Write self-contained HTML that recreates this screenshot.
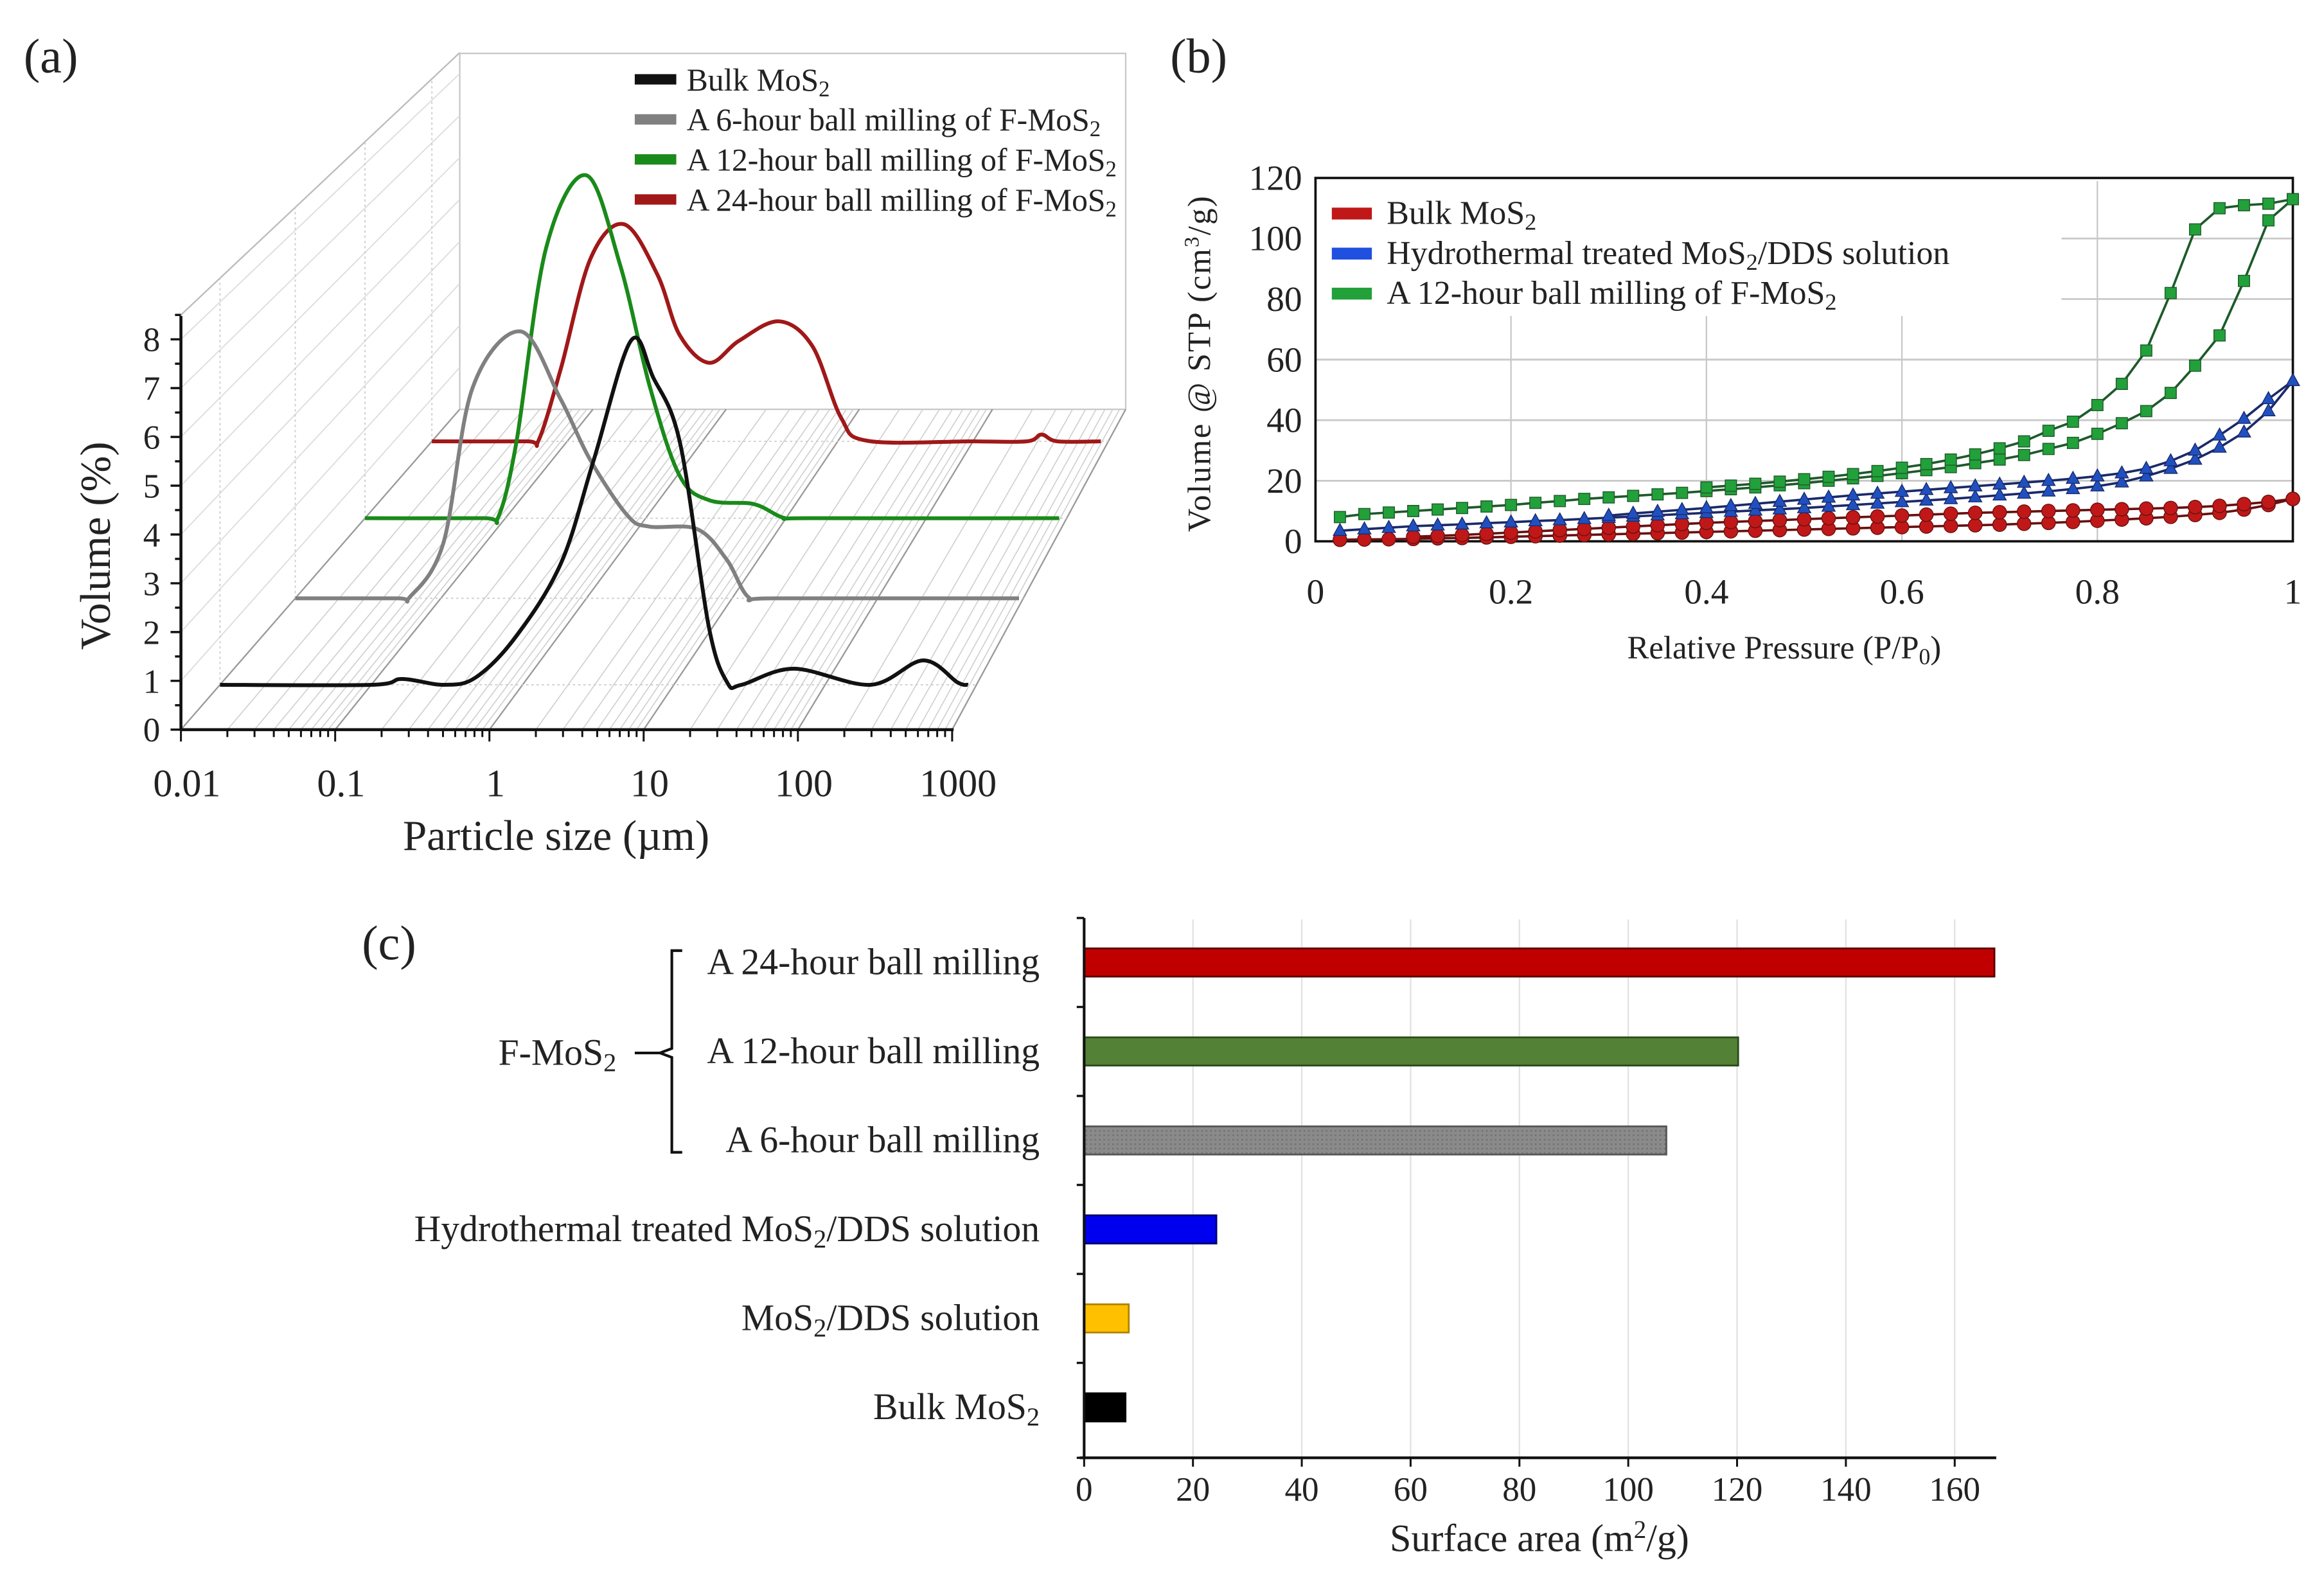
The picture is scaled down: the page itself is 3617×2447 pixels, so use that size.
<!DOCTYPE html>
<html><head><meta charset="utf-8"><style>
html,body{margin:0;padding:0;background:#fff;}
svg{display:block;}
text{font-family:"Liberation Serif",serif;fill:#222;}
</style></head><body>
<svg id="fig" xmlns="http://www.w3.org/2000/svg" width="3617" height="2447" viewBox="0 0 1567 1060" preserveAspectRatio="none">
<defs>
<pattern id="hatch" width="3" height="3" patternUnits="userSpaceOnUse"><rect width="3" height="3" fill="#8a8a8a"/><rect width="1" height="1" fill="#6e6e6e"/></pattern>
</defs>
<g id="pa"></g>
<g id="pb"></g>
<g id="pc"></g>
</svg>
<script>
// ---------- Panel (a) data: particle size (µm) vs volume (%)
const aBulkSize = [0.01,0.1,0.16,0.3,0.49,0.91,1.8,2.95,5.2,7.3,11,17,22.5,28,62,200,444,750,880];
const aBulkVol  = [0,0,0.12,0,0.15,1.0,2.5,4.6,7.05,6.3,4.95,1.2,0.05,0,0.33,0,0.5,0.05,0];
const a6hSize = [0.01,0.05,0.061,0.104,0.165,0.353,0.665,1.06,1.91,2.7,5.75,9.2,13,20,935];
const a6hVol  = [0,0,0.02,1.13,4.31,5.47,4.08,2.84,1.7,1.47,1.42,0.79,0.02,0,0];
const a12hSize = [0.01,0.07,0.089,0.12,0.195,0.376,0.658,1.07,1.74,2.83,5.9,9.6,15,885];
const a12hVol  = [0,0,0.02,1.56,5.53,7.03,5.19,2.7,0.88,0.37,0.29,0.01,0,0];
const a24hSize = [0.01,0.05,0.0615,0.09,0.149,0.263,0.464,0.678,1.12,1.86,3.68,6.5,10.6,16.7,100,250,321,420,881];
const a24hVol  = [0,0,0.02,1.5,3.75,4.45,3.42,2.18,1.61,2.06,2.46,1.95,0.48,0.01,0,0,0.14,0,0];
const aYTicks = [0,1,2,3,4,5,6,7,8];
const aXTicks = [0.01,0.1,1,10,100,1000];
const aXTickLabels = ["0.01","0.1","1","10","100","1000"];

// ---------- Panel (b) data: relative pressure vs volume
const bP40 = [0.025,0.05,0.075,0.1,0.125,0.15,0.175,0.2,0.225,0.25,0.275,0.3,0.325,0.35,0.375,0.4,0.425,0.45,0.475,0.5,0.525,0.55,0.575,0.6,0.625,0.65,0.675,0.7,0.725,0.75,0.775,0.8,0.825,0.85,0.875,0.9,0.925,0.95,0.975,1];
const bGreenAds = [8,9,9.5,10,10.5,11,11.5,12,12.7,13.3,14,14.5,15,15.5,16,16.6,17.2,17.8,18.5,19.2,20,20.8,21.6,22.5,23.5,24.5,25.8,27,28.5,30.5,32.5,35.5,39,43,49,58,68,86,106,113];
const bGreenDesP = [0.4,0.425,0.45,0.475,0.5,0.525,0.55,0.575,0.6,0.625,0.65,0.675,0.7,0.725,0.75,0.775,0.8,0.825,0.85,0.875,0.9,0.925,0.95,0.975,1];
const bGreenDes = [17.8,18.4,19,19.7,20.5,21.3,22.2,23.2,24.3,25.5,27,28.7,30.7,33,36.5,39.5,45,52,63,82,103,110,111,111.5,113];
const bBlueAds = [3.5,4,4.5,5,5.3,5.6,6,6.3,6.7,7,7.4,7.8,8.2,8.6,9,9.4,9.8,10.2,10.6,11,11.5,12,12.5,13,13.5,14,14.6,15.2,15.8,16.5,17.3,18.2,19.5,21.5,24,27,31,36,43,53];
const bBlueDesP = [0.3,0.325,0.35,0.375,0.4,0.425,0.45,0.475,0.5,0.525,0.55,0.575,0.6,0.625,0.65,0.675,0.7,0.725,0.75,0.775,0.8,0.825,0.85,0.875,0.9,0.925,0.95,0.975,1];
const bBlueDes = [8.5,9.2,9.8,10.4,11,11.7,12.4,13.1,13.8,14.5,15.2,15.8,16.4,17,17.6,18.2,18.8,19.4,20,20.7,21.5,22.5,24,26.5,30,35,40.5,47,53];
const bRedAds = [0.5,0.6,0.7,0.8,1,1.1,1.3,1.5,1.7,1.9,2.1,2.3,2.5,2.7,2.9,3.1,3.3,3.5,3.7,3.9,4.1,4.3,4.5,4.7,4.9,5.1,5.3,5.5,5.8,6.1,6.4,6.8,7.2,7.6,8.1,8.7,9.4,10.5,12,14];
const bRedDesP = [0.1,0.125,0.15,0.175,0.2,0.225,0.25,0.275,0.3,0.325,0.35,0.375,0.4,0.425,0.45,0.475,0.5,0.525,0.55,0.575,0.6,0.625,0.65,0.675,0.7,0.725,0.75,0.775,0.8,0.825,0.85,0.875,0.9,0.925,0.95,0.975,1];
const bRedDes = [1.5,1.8,2.1,2.5,2.9,3.3,3.7,4.1,4.5,4.9,5.3,5.7,6.1,6.4,6.7,7,7.3,7.6,7.9,8.2,8.5,8.8,9.1,9.4,9.6,9.8,10,10.2,10.4,10.6,10.8,11,11.3,11.7,12.3,13,14];
const bYTicks = [0,20,40,60,80,100,120];
const bXTicks = [0,0.2,0.4,0.6,0.8,1];
const bXTickLabels = ["0","0.2","0.4","0.6","0.8","1"];

// ---------- Panel (c) data: surface area
const cCategories = ["A 24-hour ball milling","A 12-hour ball milling","A 6-hour ball milling","Hydrothermal treated MoS2/DDS solution","MoS2/DDS solution","Bulk MoS2"];
const cValues = [167.3,120.2,107,24.3,8.2,7.6];
const cXTicks = [0,20,40,60,80,100,120,140,160];

const NS="http://www.w3.org/2000/svg";
function mk(parent,tag,attrs){const e=document.createElementNS(NS,tag);for(const k in attrs)e.setAttribute(k,attrs[k]);parent.appendChild(e);return e;}
function spline(pts){
  let d="M"+pts[0][0].toFixed(2)+","+pts[0][1].toFixed(2);
  for(let i=0;i<pts.length-1;i++){
    const p0=pts[Math.max(0,i-1)],p1=pts[i],p2=pts[i+1],p3=pts[Math.min(pts.length-1,i+2)];
    const c1=[p1[0]+(p2[0]-p0[0])/6,p1[1]+(p2[1]-p0[1])/6];
    const c2=[p2[0]-(p3[0]-p1[0])/6,p2[1]-(p3[1]-p1[1])/6];
    d+=" C"+c1[0].toFixed(2)+","+c1[1].toFixed(2)+" "+c2[0].toFixed(2)+","+c2[1].toFixed(2)+" "+p2[0].toFixed(2)+","+p2[1].toFixed(2);
  }
  return d;
}
function subText(parent,x,y,parts,attrs){
  const t=mk(parent,"text",Object.assign({x:x,y:y},attrs));
  parts.forEach(p=>{const s=mk(t,"tspan",{});s.textContent=p[0];if(p[1]){s.setAttribute("baseline-shift","-25%");s.setAttribute("font-size","70%");}});
  return t;
}

// ================= Panel (a)
(function(){
const g=document.getElementById("pa");
const FLx=122,FRx=642,By=276,Fy=492,BLx=310,BRx=759,unit=32.9;
function xs(size,d){const u=(Math.log10(size)+2)/5;const xl=FLx+(BLx-FLx)*d,xr=FRx+(BRx-FRx)*d;return xl+u*(xr-xl);}
function ys(v,d){return Fy-(Fy-By)*d-v*unit;}
function yw(v,d){return Fy-(Fy-By)*d-v*unit*(1-0.14*d);}
mk(g,"rect",{x:BLx,y:36,width:BRx-BLx,height:By-36,fill:"none",stroke:"#c8c8c8","stroke-width":1});
mk(g,"path",{d:`M${FLx},${yw(8.5,0)} L${BLx},${yw(8.5,1)}`,stroke:"#bbb","stroke-width":1,fill:"none"});
aYTicks.forEach(v=>{mk(g,"line",{x1:FLx,y1:yw(v,0),x2:BLx,y2:yw(v,1),stroke:"#ddd","stroke-width":0.8});});
for(let k=-2;k<=2;k++){for(let m=1;m<=9;m++){const v=m*Math.pow(10,k);
  mk(g,"line",{x1:xs(v,0),y1:Fy,x2:xs(v,1),y2:By,stroke:m===1?"#999":"#cfcfcf","stroke-width":m===1?1:0.7});}}
mk(g,"line",{x1:xs(1000,0),y1:Fy,x2:xs(1000,1),y2:By,stroke:"#999","stroke-width":1});
const depths=[0.14,0.41,0.66,0.9];
depths.forEach(d=>{
  mk(g,"line",{x1:xs(0.01,d),y1:ys(0,d),x2:xs(1000,d),y2:ys(0,d),stroke:"#ccc","stroke-width":0.8,"stroke-dasharray":"1.5,2"});
  mk(g,"line",{x1:xs(0.01,d),y1:ys(0,d),x2:xs(0.01,d),y2:yw(8.5,d),stroke:"#ccc","stroke-width":0.8,"stroke-dasharray":"1.5,2"});
});
const series=[[aBulkSize,aBulkVol,"#111"],[a6hSize,a6hVol,"#808080"],[a12hSize,a12hVol,"#1a8a1a"],[a24hSize,a24hVol,"#a01818"]];
const names=["curve-bulk-mos2","curve-6h-milling","curve-12h-milling","curve-24h-milling"];
for(let s=3;s>=0;s--){
  const [sz,vl,col]=series[s];const d=depths[s];
  const pts=sz.map((v,i)=>[xs(v,d),ys(vl[i],d)]);
  const p=mk(g,"path",{d:spline(pts),fill:"none",stroke:col,"stroke-width":2.6,"stroke-linejoin":"round"});
  
  
}
mk(g,"line",{x1:FLx,y1:213,x2:FLx,y2:Fy,stroke:"#111","stroke-width":2});
mk(g,"line",{x1:FLx,y1:Fy,x2:xs(1000,0)+1,y2:Fy,stroke:"#111","stroke-width":2});
for(let v=0;v<=8.5;v+=0.5){const maj=Number.isInteger(v);mk(g,"line",{x1:FLx-(maj?7:4),y1:ys(v,0),x2:FLx,y2:ys(v,0),stroke:"#111","stroke-width":1.5});}
aYTicks.forEach(v=>{const t=mk(g,"text",{x:FLx-14,y:ys(v,0)+8,"text-anchor":"end","font-size":23});t.textContent=v;});
for(let k=-2;k<=2;k++){for(let m=1;m<=9;m++){const v=m*Math.pow(10,k);mk(g,"line",{x1:xs(v,0),y1:Fy,x2:xs(v,0),y2:Fy+(m===1?8:5),stroke:"#111","stroke-width":1.3});}}
mk(g,"line",{x1:xs(1000,0),y1:Fy,x2:xs(1000,0),y2:Fy+8,stroke:"#111","stroke-width":1.3});
aXTicks.forEach((v,i)=>{const t=mk(g,"text",{x:xs(v,0)+4,y:537,"text-anchor":"middle","font-size":26});t.textContent=aXTickLabels[i];});
const yt=mk(g,"text",{x:0,y:0,transform:"translate(74,368) rotate(-90)","text-anchor":"middle","font-size":29});yt.textContent="Volume (%)";

const xt=mk(g,"text",{x:375,y:573,"text-anchor":"middle","font-size":29});xt.textContent="Particle size (\u00b5m)";

const lab=mk(g,"text",{x:16,y:49,"font-size":33});lab.textContent="(a)";

const leg=[["Bulk MoS","#111"],["A 6-hour ball milling of F-MoS","#808080"],["A 12-hour ball milling of F-MoS","#1a8a1a"],["A 24-hour ball milling of F-MoS","#a01818"]];
leg.forEach((l,i)=>{const y=54+i*27;
  const r=mk(g,"rect",{x:428,y:y-4,width:28,height:7,fill:l[1]});
  
  const t=subText(g,463,y+7,[[l[0]],["2",true]],{"font-size":21.5});
  });
})();

// ================= Panel (b)
(function(){
const g=document.getElementById("pb");
const X=p=>887+p*659, Y=v=>365-v*(245/120);
bYTicks.forEach(v=>{if(v>0&&v<120){const x0=(v>=80)?1390:887;mk(g,"line",{x1:x0,y1:Y(v),x2:1546,y2:Y(v),stroke:"#c8c8c8","stroke-width":1.2});}});
[0.2,0.4,0.6].forEach(p=>mk(g,"line",{x1:X(p),y1:213,x2:X(p),y2:365,stroke:"#c8c8c8","stroke-width":1}));
mk(g,"line",{x1:X(0.8),y1:122,x2:X(0.8),y2:365,stroke:"#c8c8c8","stroke-width":1});
mk(g,"rect",{x:887,y:120,width:659,height:245,fill:"none",stroke:"#111","stroke-width":1.6});
function drawSeries(ps,vs,line,fill,shape,name){
  const pts=ps.map((p,i)=>[X(p),Y(vs[i])]);
  const pl=mk(g,"polyline",{points:pts.map(q=>q.join(",")).join(" "),fill:"none",stroke:line,"stroke-width":1.6});
  
  pts.forEach(q=>{let m;
    if(shape==="c")m=mk(g,"circle",{cx:q[0],cy:q[1],r:4.6,fill:fill,stroke:line,"stroke-width":0.6});
    else if(shape==="s")m=mk(g,"rect",{x:q[0]-3.8,y:q[1]-3.8,width:7.6,height:7.6,fill:fill,stroke:line,"stroke-width":0.6});
    else m=mk(g,"polygon",{points:`${q[0]},${q[1]-4.8} ${q[0]-4.4},${q[1]+3.2} ${q[0]+4.4},${q[1]+3.2}`,fill:fill,stroke:line,"stroke-width":0.6});
    });
}
drawSeries(bP40,bRedAds,"#6a1010","#c01818","c","bulk-adsorption");
drawSeries(bRedDesP,bRedDes,"#6a1010","#c01818","c","bulk-desorption");
drawSeries(bP40,bBlueAds,"#1a2a6a","#2050c0","t","hydrothermal-adsorption");
drawSeries(bBlueDesP,bBlueDes,"#1a2a6a","#2050c0","t","hydrothermal-desorption");
drawSeries(bP40,bGreenAds,"#1d5a2a","#22a03a","s","milled-adsorption");
drawSeries(bGreenDesP,bGreenDes,"#1d5a2a","#22a03a","s","milled-desorption");
bYTicks.forEach(v=>{const t=mk(g,"text",{x:878,y:Y(v)+8,"text-anchor":"end","font-size":24});t.textContent=v;});
bXTicks.forEach((v,i)=>{const t=mk(g,"text",{x:X(v),y:407,"text-anchor":"middle","font-size":24});t.textContent=bXTickLabels[i];});
const xt=subText(g,1203,444,[["Relative Pressure (P/P"],["0",true],[")"]],{"text-anchor":"middle","font-size":22});

const yt=mk(g,"text",{x:0,y:0,transform:"translate(816,245) rotate(-90)","text-anchor":"middle","font-size":22,"letter-spacing":"1"});
[["Volume @ STP (cm"],["3"],["/g)"]].forEach((p,i)=>{const s=mk(yt,"tspan",{});s.textContent=p[0];if(i===1){s.setAttribute("baseline-shift","super");s.setAttribute("font-size","65%");}});

const lab=mk(g,"text",{x:789,y:49,"font-size":33});lab.textContent="(b)";

const leg=[[[["Bulk MoS"],["2",true]],"#c01818"],[[["Hydrothermal  treated MoS"],["2",true],["/DDS solution"]],"#2050e0"],[[["A 12-hour ball milling of F-MoS"],["2",true]],"#22a03a"]];
leg.forEach((l,i)=>{const y=144+i*27;
  const r=mk(g,"rect",{x:898,y:y-4,width:27,height:8,fill:l[1]});
  
  const t=subText(g,935,y+7,l[0],{"font-size":22.5});
  });
})();

// ================= Panel (c)
(function(){
const g=document.getElementById("pc");
const X=v=>731+v*(587/160);
const cy=[649,709,769,829,889,949];
const fills=["#c00000","#538135","url(#hatch)","#0000ee","#ffc000","#000"];
const strokes=["#5a0000","#2a4a1a","#555","#000070","#b08000","#000"];
cXTicks.forEach(v=>{if(v>0)mk(g,"line",{x1:X(v),y1:620,x2:X(v),y2:983,stroke:"#e2e2e2","stroke-width":1});});
cValues.forEach((v,i)=>{
  const r=mk(g,"rect",{x:X(0),y:cy[i]-9.5,width:X(v)-X(0),height:19,fill:fills[i],stroke:strokes[i],"stroke-width":1.2});
  
});
mk(g,"line",{x1:731,y1:619,x2:731,y2:984,stroke:"#111","stroke-width":1.8});
mk(g,"line",{x1:728,y1:983,x2:1346,y2:983,stroke:"#111","stroke-width":1.8});
[619,679,739,799,859,919,983].forEach(y=>mk(g,"line",{x1:726,y1:y,x2:731,y2:y,stroke:"#111","stroke-width":1.5}));
cXTicks.forEach(v=>{mk(g,"line",{x1:X(v),y1:983,x2:X(v),y2:989,stroke:"#111","stroke-width":1.3});
  const t=mk(g,"text",{x:X(v),y:1012,"text-anchor":"middle","font-size":23});t.textContent=v;});
cCategories.forEach((c,i)=>{
  const parts=c.split("MoS2");let arr=[];
  parts.forEach((p,j)=>{if(j>0){arr.push(["MoS"]);arr.push(["2",true]);}if(p)arr.push([p]);});
  const t=subText(g,701,cy[i]+8,arr,{"text-anchor":"end","font-size":25});
  
});
mk(g,"path",{d:"M460,641 L453,641 L453,707 L445,710 L453,713 L453,777 L460,777",fill:"none",stroke:"#111","stroke-width":1.8});
mk(g,"line",{x1:428,y1:710,x2:445,y2:710,stroke:"#111","stroke-width":1.8});
const f=subText(g,336,718,[["F-MoS"],["2",true]],{"font-size":25});

const xt=mk(g,"text",{x:1038,y:1046,"text-anchor":"middle","font-size":26});
[["Surface area (m"],["2"],["/g)"]].forEach((p,i)=>{const s=mk(xt,"tspan",{});s.textContent=p[0];if(i===1){s.setAttribute("baseline-shift","super");s.setAttribute("font-size","65%");}});

const lab=mk(g,"text",{x:244,y:647,"font-size":33});lab.textContent="(c)";

})();
</script>
</body></html>
